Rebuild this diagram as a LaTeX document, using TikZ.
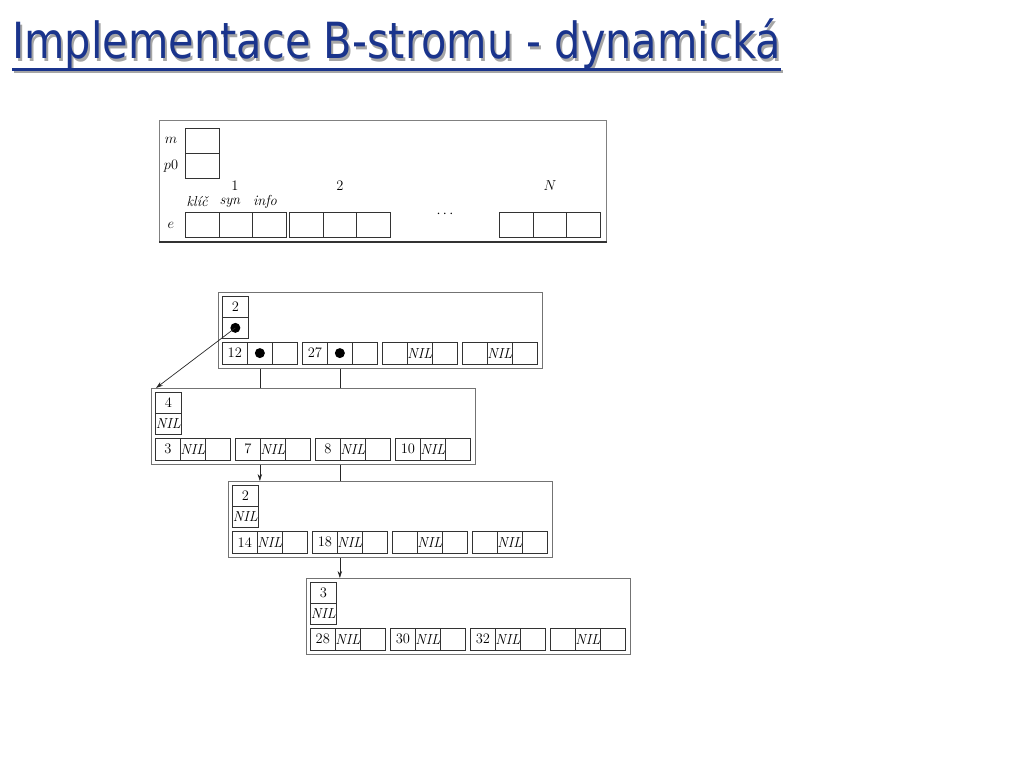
\documentclass[tikz,border=0pt]{standalone}
\usepackage{fontspec}
\newfontfamily\titlefont{DejaVu Sans}
\usetikzlibrary{arrows.meta}
\pgfdeclarelayer{background}
\pgfsetlayers{background,main}
\definecolor{tblue}{RGB}{26,52,140}
\tikzset{
  frame/.style={draw=black!55, line width=1.1pt, fill=white, inner sep=0pt,
    minimum width=324pt, minimum height=76pt, anchor=north west},
  cell/.style={draw=black!80, line width=0.7pt, fill=white, inner sep=0pt,
    minimum width=25pt, minimum height=21.5pt, anchor=north west,
    font=\fontsize{14.5}{16}\selectfont},
  hcell/.style={cell, minimum width=26pt, minimum height=21pt},
  dotmark/.style={circle, fill=black, inner sep=0pt, minimum size=10pt},
  ptr/.style={draw=black!85, line width=0.7pt, -{Stealth[length=7pt,width=4.5pt]}},
  sframe/.style={draw=black!50, line width=1pt, inner sep=0pt,
    minimum width=447pt, minimum height=121pt, anchor=north west},
  scell/.style={draw=black!80, line width=0.7pt, inner sep=0pt,
    minimum width=33.7pt, minimum height=25pt, anchor=north west},
  lbl/.style={inner sep=0pt, font=\fontsize{14.5}{16}\selectfont},
  title/.style={inner sep=0pt, anchor=base west, font=\titlefont\fontsize{41.5}{45}\selectfont},
}
\newcommand\bframe[5]{%
  \node[frame] (#1) at (#2,#3) {};
  \node[hcell] (#1h1) at (#2+4,#3+4) {#4};
  \node[hcell] (#1h2) at (#2+4,#3+25) {#5};
}
\newcommand\bentry[6]{%
  \node[cell] (#1e#2k) at ({#3+4+80*(#2-1)},#4+50) {#5};
  \node[cell] (#1e#2s) at ({#3+29+80*(#2-1)},#4+50) {#6};
  \node[cell] (#1e#2i) at ({#3+54+80*(#2-1)},#4+50) {};
}
\newcommand\NIL{\textit{NIL}}
\newcommand\ttext{\scalebox{1}[1.2]{Implementace B-stromu - dynamická}}
\begin{document}
\begin{tikzpicture}[x=1pt,y=-1pt]
\useasboundingbox (0,0) rectangle (1024,768);
% title
\node[title, text=black!35] (titleshadow) at (14,61) {\ttext};
\node[title, text=tblue] (title) at (12,59) {\ttext};
\draw[line width=3pt, black!35] ([shift={(2pt,-12pt)}]title.base west) -- ([shift={(2pt,-12pt)}]title.base east);
\draw[line width=3pt, tblue] ([yshift=-10pt]title.base west) -- ([yshift=-10pt]title.base east);

% structure definition
\node[sframe] (s) at (159,120) {};
\draw[line width=1.8pt, black!80] (s.south west) -- (s.south east);
\node[scell] (sm) at (185,128) {};
\node[scell] (sp) at (185,153) {};
\node[lbl] (lm) at (171,140) {$m$};
\node[lbl] (lp) at (171,166) {$p0$};
\node[lbl] (le) at (171,225) {$e$};
\foreach \gx/\g in {185/1,289/2,499/3}{
  \node[scell] (s\g a) at (\gx,212) {};
  \node[scell] (s\g b) at (\gx+33.7,212) {};
  \node[scell] (s\g c) at (\gx+67.4,212) {};
}
\node[lbl] (l1) at (235,185.5) {1};
\node[lbl] (l2) at (340,185.5) {2};
\node[lbl] (lN) at (550,185.5) {$N$};
\node[lbl] (lk) at (198,201.5) {\textit{klíč}};
\node[lbl] (ls) at (230,203) {\textit{syn}};
\node[lbl] (li) at (265,201.5) {\textit{info}};
\node[lbl] (ld) at (445,214) {$\cdots$};

% B-tree nodes
\bframe{b1}{218}{292}{2}{}
\bentry{b1}{1}{218}{292}{12}{}
\bentry{b1}{2}{218}{292}{27}{}
\bentry{b1}{3}{218}{292}{}{\NIL}
\bentry{b1}{4}{218}{292}{}{\NIL}
\node[dotmark] (d0) at (b1h2.center) {};
\node[dotmark] (d1) at (b1e1s.center) {};
\node[dotmark] (d2) at (b1e2s.center) {};

\bframe{b2}{151}{388}{4}{\NIL}
\bentry{b2}{1}{151}{388}{3}{\NIL}
\bentry{b2}{2}{151}{388}{7}{\NIL}
\bentry{b2}{3}{151}{388}{8}{\NIL}
\bentry{b2}{4}{151}{388}{10}{\NIL}

\bframe{b3}{228}{481}{2}{\NIL}
\bentry{b3}{1}{228}{481}{14}{\NIL}
\bentry{b3}{2}{228}{481}{18}{\NIL}
\bentry{b3}{3}{228}{481}{}{\NIL}
\bentry{b3}{4}{228}{481}{}{\NIL}

\bframe{b4}{306}{578}{3}{\NIL}
\bentry{b4}{1}{306}{578}{28}{\NIL}
\bentry{b4}{2}{306}{578}{30}{\NIL}
\bentry{b4}{3}{306}{578}{32}{\NIL}
\bentry{b4}{4}{306}{578}{}{\NIL}

% pointers
\draw[ptr] (d0.center) -- ([xshift=5pt]b2.north west);
\begin{pgfonlayer}{background}
\draw[ptr] (d1.center) -- (d1.center |- b3.north);
\draw[ptr] (d2.center) -- (d2.center |- b4.north);
\end{pgfonlayer}
\end{tikzpicture}
\end{document}
